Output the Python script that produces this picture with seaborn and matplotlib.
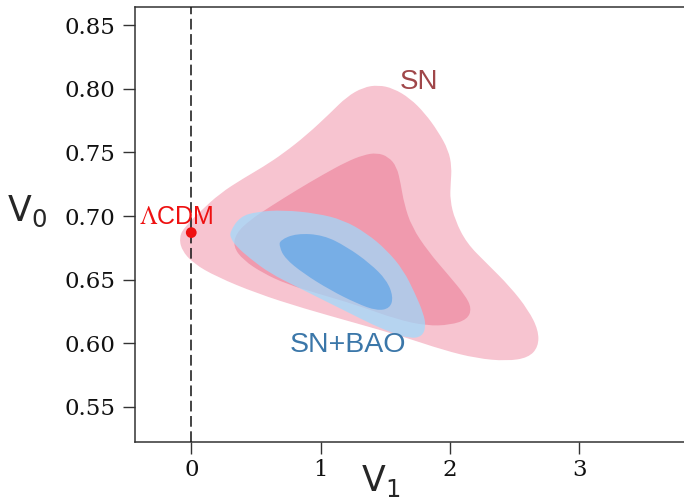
import matplotlib
matplotlib.use("Agg")
import matplotlib.pyplot as plt
from matplotlib.path import Path
from matplotlib.patches import PathPatch
import seaborn as sns
import pandas as pd

# ---- contour boundaries (V1, V0) ----
sn_outer_x = [1.330, 1.446, 1.562, 1.691, 1.807, 1.910, 1.988, 2.014, 2.006, 2.001,
              2.039, 2.130, 2.285, 2.465, 2.606, 2.684, 2.684, 2.606, 2.439, 2.207,
              1.949, 1.640, 1.279, 0.866, 0.506, 0.196, 0.016, -0.075, -0.093, -0.049,
              0.067, 0.222, 0.403, 0.557, 0.712, 0.892, 1.073, 1.202]
sn_outer_y = [0.8011, 0.8029, 0.8003, 0.7925, 0.7807, 0.7662, 0.7518, 0.7387, 0.7257, 0.7126,
              0.6969, 0.6786, 0.6628, 0.6445, 0.6262, 0.6104, 0.5973, 0.5887, 0.5861, 0.5882,
              0.5947, 0.6052, 0.6157, 0.6275, 0.6393, 0.6523, 0.6628, 0.6733, 0.6837, 0.6916,
              0.7034, 0.7178, 0.7296, 0.7387, 0.7492, 0.7636, 0.7807, 0.7937]

sn_inner_x = [1.434, 1.524, 1.589, 1.619, 1.645, 1.704, 1.833, 1.988, 2.117, 2.168,
              2.135, 2.001, 1.820, 1.589, 1.279, 0.970, 0.738, 0.557, 0.402, 0.325,
              0.346, 0.454, 0.609, 0.815, 1.021, 1.202, 1.330]
sn_inner_y = [0.7497, 0.7466, 0.7387, 0.7257, 0.7100, 0.6916, 0.6720, 0.6537, 0.6379, 0.6275,
              0.6188, 0.6144, 0.6138, 0.6188, 0.6301, 0.6393, 0.6466, 0.6550, 0.6654, 0.6759,
              0.6864, 0.6969, 0.7073, 0.7204, 0.7327, 0.7427, 0.7479]

bao_outer_x = [0.299, 0.377, 0.506, 0.712, 0.970, 1.176, 1.357, 1.511, 1.640, 1.730,
               1.795, 1.815, 1.782, 1.691, 1.563, 1.408, 1.227, 1.021, 0.815, 0.609,
               0.454, 0.351, 0.305]
bao_outer_y = [0.6877, 0.6995, 0.7034, 0.7047, 0.7021, 0.6969, 0.6864, 0.6733, 0.6576, 0.6393,
               0.6236, 0.6130, 0.6052, 0.6039, 0.6079, 0.6144, 0.6236, 0.6340, 0.6445, 0.6550,
               0.6667, 0.6759, 0.6825]

bao_inner_x = [0.686, 0.815, 1.021, 1.202, 1.382, 1.511, 1.562, 1.537, 1.434, 1.279,
               1.073, 0.866, 0.725, 0.681]
bao_inner_y = [0.6811, 0.6864, 0.6851, 0.6759, 0.6628, 0.6497, 0.6366, 0.6275, 0.6256, 0.6314,
               0.6419, 0.6550, 0.6667, 0.6759]

lcdm_v1 = [0.0]
lcdm_v0 = [0.687]

x_ticks = [0, 1, 2, 3]
y_ticks = [0.55, 0.60, 0.65, 0.70, 0.75, 0.80, 0.85]
y_tick_labels = ["0.55", "0.60", "0.65", "0.70", "0.75", "0.80", "0.85"]


def smooth_region(ax, xs, ys, **kw):
    """Closed outline drawn with quadratic Bezier segments (vertices as control points)."""
    n = len(xs)
    mids = [((xs[i] + xs[(i + 1) % n]) / 2, (ys[i] + ys[(i + 1) % n]) / 2) for i in range(n)]
    verts = [mids[-1]]
    codes = [Path.MOVETO]
    for i in range(n):
        verts += [(xs[i], ys[i]), mids[i]]
        codes += [Path.CURVE3, Path.CURVE3]
    verts.append(mids[-1])
    codes.append(Path.CLOSEPOLY)
    ax.add_patch(PathPatch(Path(verts, codes), lw=0, **kw))


sns.set_theme(style="ticks")
plt.rcParams["font.family"] = ["DejaVu Serif"]

fig = plt.figure(figsize=(6.84, 5.01), dpi=100)
ax = fig.add_axes([135 / 684, 1 - 442 / 501, 549 / 684, 435 / 501])

smooth_region(ax, sn_outer_x, sn_outer_y, facecolor="#F7C4D0", zorder=1)
smooth_region(ax, sn_inner_x, sn_inner_y, facecolor="#F09AAE", zorder=2)
smooth_region(ax, bao_outer_x, bao_outer_y, facecolor="#9BDCFF", alpha=0.7, zorder=3)
smooth_region(ax, bao_inner_x, bao_inner_y, facecolor="#5EA3E6", alpha=0.7, zorder=4)

ax.axvline(0, color="#111111", lw=1.1, dashes=(7, 3), zorder=5)

df = pd.DataFrame({"V1": lcdm_v1, "V0": lcdm_v0})
sns.scatterplot(data=df, x="V1", y="V0", ax=ax, color="#EE1111", s=60,
                edgecolor="none", zorder=6)

ax.text(-0.12, 0.699, r"$\Lambda$CDM", color="#EE1111", fontsize=18,
        family="Liberation Sans", math_fontfamily="stix",
        ha="center", va="center", zorder=7)
ax.text(1.76, 0.805, "SN", color="#A0474A", fontsize=20,
        family="Liberation Sans", ha="center", va="center", zorder=7)
ax.text(1.209, 0.5987, "SN+BAO", color="#3B77A9", fontsize=20.5,
        family="Liberation Sans", ha="center", va="center", zorder=7)

ax.set_xlim(-0.435, 3.81)
ax.set_ylim(0.5225, 0.8642)
ax.set_xticks(x_ticks)
ax.set_xticklabels([str(t) for t in x_ticks])
ax.set_yticks(y_ticks)
ax.set_yticklabels(y_tick_labels)
ax.tick_params(axis="both", direction="out", length=8.6, width=1.0,
               color="#333333", labelsize=16.5, labelcolor="#111111")
ax.tick_params(axis="y", pad=5.5)
ax.tick_params(axis="x", pad=4)

for s in ["left", "bottom", "top"]:
    ax.spines[s].set_color("#333333")
    ax.spines[s].set_linewidth(1.1)
ax.spines["right"].set_visible(False)

ax.set_xlabel(r"$\mathregular{V_1}$", fontsize=25, family="DejaVu Sans",
              ha="center", va="center")
ax.set_ylabel(r"$\mathregular{V_0}$", fontsize=25, family="DejaVu Sans",
              rotation=0, ha="center", va="center")
ax.xaxis.set_label_coords(0.448, -0.09)
ax.yaxis.set_label_coords(-0.197, 0.531)

fig.savefig("out.png", dpi=100)
